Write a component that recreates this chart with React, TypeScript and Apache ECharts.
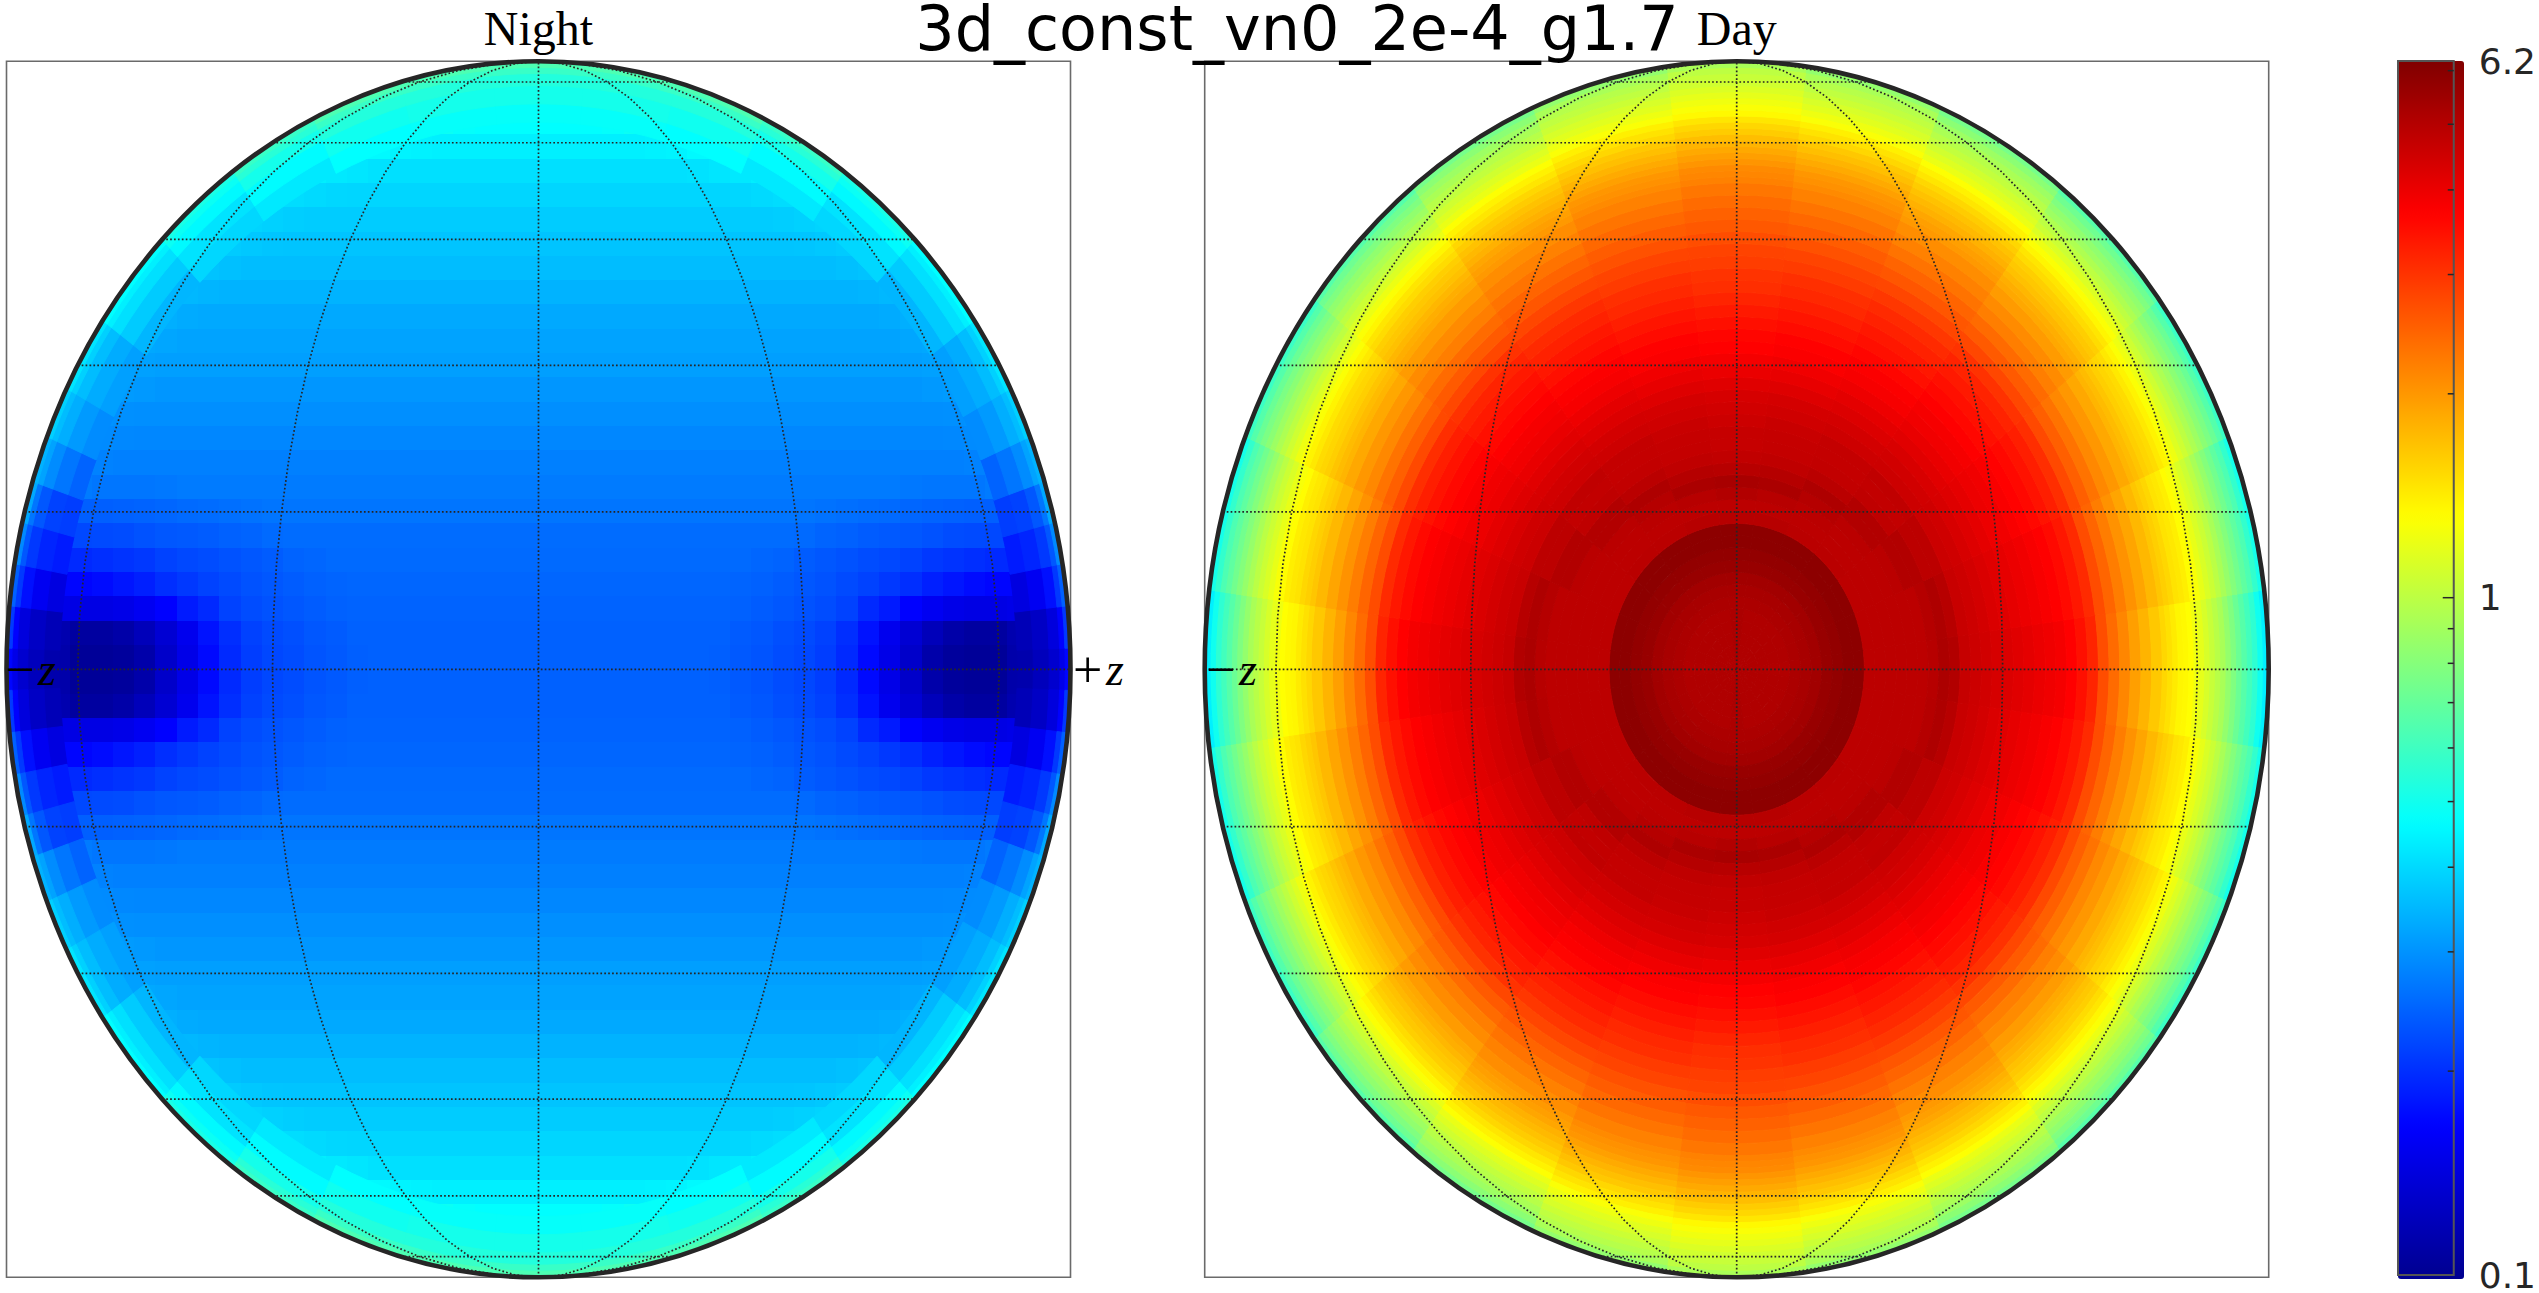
import React, { useEffect, useRef } from "react";
import * as echarts from "echarts";

const chartTitle = "3d_const_vn0_2e-4_g1.7";
const panelNames = ["Night", "Day"];
const colorbarLabels = [0.1, 1, 6.2];
const colorbarMinorTicks = [0.2, 0.3, 0.4, 0.5, 0.6, 0.7, 0.8, 0.9, 2, 3, 4, 5, 6];
const colorbarMajorTicks = [1];
const jetColors = ["#00008f", "#0000ff", "#0080ff", "#00ffff", "#80ff80", "#ffff00", "#ff8000", "#ff0000", "#800000"];

const latitudes = [-75, -60, -45, -30, -15, 0, 15, 30, 45, 60, 75];
const longitudes = [-60, -30, 0, 30, 60];
const meridianSamples = [-90, -85, -80, -75, -70, -65, -60, -55, -50, -45, -40, -35, -30, -25, -20, -15, -10, -5, 0, 5, 10, 15, 20, 25, 30, 35, 40, 45, 50, 55, 60, 65, 70, 75, 80, 85, 90];

// Day side: elliptical radius ring edges, sector edges over one quadrant, one radial list per sector.
const dayRings = [0, 0.02, 0.04, 0.06, 0.08, 0.1, 0.12, 0.14, 0.16, 0.18, 0.2, 0.22, 0.24, 0.26, 0.28, 0.3, 0.32, 0.34, 0.36, 0.38, 0.4, 0.42, 0.44, 0.46, 0.48, 0.5, 0.52, 0.54, 0.56, 0.58, 0.6, 0.62, 0.64, 0.66, 0.68, 0.7, 0.72, 0.74, 0.76, 0.78, 0.8, 0.81, 0.82, 0.83, 0.84, 0.85, 0.86, 0.87, 0.88, 0.89, 0.9, 0.91, 0.92, 0.93, 0.94, 0.95, 0.96, 0.97, 0.98, 0.99, 1];
const daySectors = [0, 7.5, 22.5, 37.5, 52.5, 67.5, 82.5, 90];
const day0 = [5.07, 5.07, 5.07, 5.07, 5.07, 5.18, 5.28, 5.39, 5.63, 5.74, 5.87, 5.87, 4.86, 4.86, 4.86, 4.86, 4.86, 4.86, 4.96, 5.18, 5.07, 4.66, 4.56, 4.47, 4.38, 4.29, 4.2, 4.11, 4.02, 3.94, 3.86, 3.7, 3.48, 3.2, 2.71, 2.4, 2.16, 1.95, 1.79, 1.65, 1.55, 1.49, 1.43, 1.37, 1.35, 1.32, 1.24, 1.19, 1.12, 1.05, 0.99, 0.93, 0.855, 0.787, 0.722, 0.666, 0.614, 0.565, 0.5, 0.442];
const day15 = [5.1, 5.1, 5.1, 5.1, 5.1, 5.18, 5.28, 5.39, 5.63, 5.74, 5.87, 5.87, 4.86, 4.86, 4.86, 4.86, 4.86, 4.86, 5.0, 5.15, 4.96, 4.62, 4.53, 4.42, 4.31, 4.2, 4.09, 4.0, 3.91, 3.81, 3.72, 3.57, 3.38, 3.13, 2.73, 2.46, 2.24, 2.05, 1.9, 1.76, 1.66, 1.6, 1.55, 1.48, 1.45, 1.41, 1.33, 1.28, 1.2, 1.13, 1.07, 1.0, 0.93, 0.86, 0.8, 0.745, 0.69, 0.64, 0.575, 0.512];
const day30 = [5.1, 5.1, 5.1, 5.1, 5.1, 5.18, 5.28, 5.39, 5.63, 5.74, 5.87, 5.87, 4.86, 4.86, 4.86, 4.86, 4.9, 5.07, 5.07, 4.86, 4.86, 4.58, 4.49, 4.36, 4.24, 4.11, 3.99, 3.91, 3.8, 3.69, 3.58, 3.44, 3.28, 3.07, 2.76, 2.52, 2.33, 2.14, 2.01, 1.88, 1.78, 1.73, 1.67, 1.6, 1.56, 1.52, 1.44, 1.38, 1.3, 1.23, 1.15, 1.08, 1.01, 0.945, 0.885, 0.825, 0.775, 0.722, 0.66, 0.595];
const day45 = [5.1, 5.1, 5.1, 5.1, 5.1, 5.18, 5.28, 5.39, 5.63, 5.74, 5.87, 5.87, 4.9, 4.86, 4.86, 4.9, 5.07, 5.07, 4.8, 4.75, 4.78, 4.55, 4.47, 4.33, 4.18, 4.04, 3.91, 3.84, 3.72, 3.6, 3.48, 3.34, 3.21, 3.02, 2.78, 2.57, 2.4, 2.23, 2.11, 1.98, 1.88, 1.83, 1.77, 1.7, 1.65, 1.6, 1.52, 1.46, 1.37, 1.3, 1.22, 1.14, 1.07, 1.01, 0.95, 0.89, 0.845, 0.787, 0.735, 0.663];
const day60 = [5.1, 5.1, 5.1, 5.1, 5.1, 5.18, 5.28, 5.39, 5.63, 5.74, 5.87, 5.87, 4.9, 4.86, 4.9, 5.0, 5.15, 4.9, 4.75, 4.7, 4.7, 4.53, 4.43, 4.27, 4.13, 3.97, 3.83, 3.75, 3.63, 3.49, 3.38, 3.24, 3.13, 2.97, 2.79, 2.62, 2.47, 2.33, 2.2, 2.1, 2.0, 1.95, 1.89, 1.81, 1.75, 1.69, 1.62, 1.55, 1.46, 1.39, 1.31, 1.21, 1.15, 1.09, 1.03, 0.985, 0.935, 0.885, 0.825, 0.755];
const day75 = [5.1, 5.1, 5.1, 5.1, 5.1, 5.18, 5.28, 5.39, 5.63, 5.74, 5.87, 5.87, 4.96, 4.86, 4.95, 5.2, 5.0, 4.8, 4.7, 4.68, 4.62, 4.49, 4.4, 4.24, 4.06, 3.91, 3.76, 3.69, 3.54, 3.41, 3.28, 3.15, 3.06, 2.92, 2.81, 2.67, 2.55, 2.43, 2.32, 2.2, 2.12, 2.06, 2.02, 1.94, 1.86, 1.79, 1.71, 1.65, 1.55, 1.48, 1.4, 1.29, 1.23, 1.17, 1.12, 1.07, 1.02, 0.98, 0.93, 0.85];
const day90 = [5.18, 5.18, 5.18, 5.18, 5.18, 5.18, 5.28, 5.39, 5.63, 5.74, 5.87, 5.87, 4.96, 4.86, 5.07, 5.28, 4.96, 4.76, 4.66, 4.66, 4.56, 4.47, 4.38, 4.2, 4.02, 3.86, 3.7, 3.63, 3.48, 3.34, 3.2, 3.07, 3.01, 2.89, 2.83, 2.71, 2.6, 2.5, 2.4, 2.3, 2.2, 2.16, 2.12, 2.03, 1.95, 1.87, 1.79, 1.72, 1.62, 1.55, 1.46, 1.35, 1.29, 1.24, 1.19, 1.14, 1.09, 1.05, 1.01, 0.93];
const dayProfiles = [day0, day15, day30, day45, day60, day75, day90];

// Night side: one quadrant of a regular cell grid; rows go up from the equator, columns out from the central meridian.
const nightCellSize = 0.04;
const nightRows = [
  [0.248, 0.248, 0.248, 0.248, 0.248, 0.248, 0.248, 0.248, 0.246, 0.24, 0.235, 0.228, 0.223, 0.214, 0.198, 0.174, 0.151, 0.131, 0.113, 0.106, 0.104, 0.104, 0.113, 0.126, 0.145],
  [0.248, 0.248, 0.248, 0.248, 0.248, 0.248, 0.248, 0.248, 0.248, 0.242, 0.238, 0.23, 0.226, 0.218, 0.202, 0.18, 0.155, 0.137, 0.122, 0.112, 0.108, 0.108, 0.116, 0.128, 0.15],
  [0.25, 0.25, 0.25, 0.25, 0.25, 0.25, 0.25, 0.25, 0.25, 0.248, 0.243, 0.238, 0.233, 0.228, 0.219, 0.198, 0.186, 0.168, 0.158, 0.151, 0.148, 0.148, 0.151, 0.161, 0.186],
  [0.253, 0.253, 0.253, 0.253, 0.253, 0.253, 0.253, 0.253, 0.253, 0.251, 0.248, 0.243, 0.238, 0.233, 0.226, 0.219, 0.21, 0.202, 0.19, 0.182, 0.175, 0.171, 0.171, 0.175, 0.21],
  [0.257, 0.257, 0.257, 0.257, 0.257, 0.257, 0.257, 0.257, 0.257, 0.257, 0.253, 0.25, 0.243, 0.238, 0.233, 0.228, 0.224, 0.219, 0.21, 0.206, 0.202, 0.198, 0.198, 0.202, 0.22],
  [0.259, 0.259, 0.259, 0.259, 0.259, 0.259, 0.259, 0.259, 0.259, 0.259, 0.259, 0.259, 0.257, 0.251, 0.248, 0.243, 0.24, 0.238, 0.233, 0.228, 0.226, 0.224, 0.224, 0.23, 0.24],
  [0.268, 0.268, 0.268, 0.268, 0.268, 0.268, 0.268, 0.268, 0.268, 0.268, 0.268, 0.268, 0.268, 0.265, 0.262, 0.259, 0.257, 0.253, 0.25, 0.248, 0.246, 0.246, 0.248, 0.255, 0.265],
  [0.275, 0.275, 0.275, 0.275, 0.275, 0.275, 0.275, 0.275, 0.275, 0.275, 0.275, 0.275, 0.275, 0.275, 0.275, 0.275, 0.275, 0.272, 0.27, 0.27, 0.27, 0.275, 0.281, 0.281, 0.281],
  [0.281, 0.281, 0.281, 0.281, 0.281, 0.281, 0.281, 0.281, 0.281, 0.281, 0.281, 0.281, 0.281, 0.281, 0.281, 0.281, 0.281, 0.281, 0.281, 0.281, 0.283, 0.285, 0.287, 0.29, 0.29],
  [0.289, 0.289, 0.289, 0.289, 0.289, 0.289, 0.289, 0.289, 0.289, 0.289, 0.289, 0.289, 0.289, 0.289, 0.289, 0.289, 0.289, 0.289, 0.289, 0.29, 0.293, 0.297, 0.3, 0.3],
  [0.298, 0.298, 0.298, 0.298, 0.298, 0.298, 0.298, 0.298, 0.298, 0.298, 0.298, 0.298, 0.298, 0.298, 0.298, 0.298, 0.298, 0.298, 0.298, 0.299, 0.302, 0.305, 0.31, 0.31],
  [0.307, 0.307, 0.307, 0.307, 0.307, 0.307, 0.307, 0.307, 0.307, 0.307, 0.307, 0.307, 0.307, 0.307, 0.307, 0.307, 0.307, 0.307, 0.31, 0.313, 0.316, 0.32, 0.32],
  [0.318, 0.318, 0.318, 0.318, 0.318, 0.318, 0.318, 0.318, 0.318, 0.318, 0.318, 0.318, 0.318, 0.318, 0.318, 0.318, 0.318, 0.318, 0.321, 0.325, 0.33, 0.33, 0.33],
  [0.324, 0.324, 0.324, 0.324, 0.324, 0.324, 0.324, 0.324, 0.324, 0.324, 0.324, 0.324, 0.324, 0.324, 0.324, 0.324, 0.324, 0.327, 0.33, 0.335, 0.34, 0.34],
  [0.331, 0.331, 0.331, 0.331, 0.331, 0.331, 0.331, 0.331, 0.331, 0.331, 0.331, 0.331, 0.331, 0.331, 0.331, 0.331, 0.334, 0.34, 0.345, 0.35, 0.35],
  [0.345, 0.345, 0.345, 0.345, 0.345, 0.345, 0.345, 0.345, 0.345, 0.345, 0.345, 0.345, 0.345, 0.345, 0.345, 0.348, 0.352, 0.358, 0.362, 0.365],
  [0.359, 0.359, 0.359, 0.359, 0.359, 0.359, 0.359, 0.359, 0.359, 0.359, 0.359, 0.359, 0.359, 0.36, 0.364, 0.368, 0.372, 0.376, 0.38, 0.38],
  [0.37, 0.37, 0.37, 0.37, 0.37, 0.37, 0.37, 0.37, 0.37, 0.37, 0.37, 0.37, 0.372, 0.376, 0.38, 0.384, 0.39, 0.39, 0.39],
  [0.382, 0.382, 0.382, 0.382, 0.382, 0.382, 0.382, 0.382, 0.382, 0.382, 0.382, 0.385, 0.39, 0.394, 0.398, 0.402, 0.405, 0.41],
  [0.398, 0.398, 0.398, 0.398, 0.398, 0.398, 0.398, 0.398, 0.398, 0.4, 0.405, 0.41, 0.415, 0.42, 0.425, 0.43, 0.43],
  [0.415, 0.415, 0.415, 0.415, 0.415, 0.415, 0.415, 0.418, 0.425, 0.43, 0.44, 0.445, 0.45, 0.46, 0.46],
  [0.442, 0.442, 0.442, 0.442, 0.442, 0.446, 0.45, 0.46, 0.47, 0.48, 0.49, 0.5, 0.5, 0.5],
  [0.47, 0.47, 0.47, 0.476, 0.49, 0.5, 0.52, 0.53, 0.54, 0.55, 0.55, 0.55],
  [0.5, 0.5, 0.51, 0.52, 0.53, 0.54, 0.55, 0.55, 0.55, 0.55],
  [0.55, 0.56, 0.57, 0.58, 0.59, 0.59, 0.59],
];

// Night side limb: thin rings along the ellipse, one list per sector of a quadrant.
const nightLimbRings = [0.9, 0.93, 0.96, 0.98, 0.99, 1];
const nightLimbSectors = [0, 2, 6, 10, 14, 18, 22.5, 27.5, 35, 45, 55, 65, 75, 85, 90];
const limb0 = [0.115, 0.123, 0.134, 0.151, 0.171];
const limb4 = [0.12, 0.128, 0.143, 0.168, 0.21];
const limb8 = [0.145, 0.158, 0.178, 0.21, 0.248];
const limb12 = [0.186, 0.194, 0.21, 0.238, 0.292];
const limb16 = [0.214, 0.219, 0.238, 0.27, 0.331];
const limb20 = [0.25, 0.27, 0.295, 0.324, 0.345];
const limb25 = [0.295, 0.312, 0.338, 0.359, 0.39];
const limb30 = [0.32, 0.335, 0.359, 0.39, 0.424];
const limb40 = [0.35, 0.38, 0.415, 0.442, 0.47];
const limb50 = [0.4, 0.42, 0.46, 0.49, 0.52];
const limb60 = [0.43, 0.465, 0.51, 0.553, 0.59];
const limb70 = [0.47, 0.5, 0.54, 0.59, 0.64];
const limb80 = [0.48, 0.51, 0.54, 0.59, 0.64];
const limb90 = [0.48, 0.51, 0.54, 0.59, 0.64];
const nightLimbProfiles = [limb0, limb4, limb8, limb12, limb16, limb20, limb25, limb30, limb40, limb50, limb60, limb70, limb80, limb90];

const INK = "#262626";
const SERIF = "'Liberation Serif', serif";
const SANS = "'DejaVu Sans', sans-serif";
const PANEL_TOP = 61.3;
const PANEL_H = 1216;
const PANEL_W = 1064;
const PANEL_LEFTS = [6.5, 1204.7];
const BAR = { left: 2398, top: 61, width: 66, height: 1218 };
const LOG_MIN = Math.log10(colorbarLabels[0]);
const LOG_MAX = Math.log10(colorbarLabels[2]);
const rad = (d: number) => (d * Math.PI) / 180;

// Polar mesh cells mirrored into the four quadrants.
function polarCells(rings: number[], sectors: number[], profiles: number[][]) {
  const cells: number[][] = [];
  profiles.forEach((profile, s) => {
    const lo = sectors[s];
    const hi = sectors[s + 1];
    profile.forEach((v, r) => {
      const log = Math.log10(v);
      cells.push([lo, hi, rings[r], rings[r + 1], log]);
      cells.push([180 - hi, 180 - lo, rings[r], rings[r + 1], log]);
      cells.push([-hi, -lo, rings[r], rings[r + 1], log]);
      cells.push([180 + lo, 180 + hi, rings[r], rings[r + 1], log]);
    });
  });
  return cells;
}

// Regular grid cells mirrored into the four quadrants.
function gridCells(rows: number[][], size: number) {
  const cells: number[][] = [];
  rows.forEach((row, j) => {
    row.forEach((v, i) => {
      const log = Math.log10(v);
      const x0 = i * size;
      const x1 = x0 + size;
      const y0 = j * size;
      const y1 = y0 + size;
      cells.push([x0, x1, y0, y1, log]);
      cells.push([-x1, -x0, y0, y1, log]);
      cells.push([x0, x1, -y1, -y0, log]);
      cells.push([-x1, -x0, -y1, -y0, log]);
    });
  });
  return cells;
}

function renderPolarCell(_p: any, api: any) {
  const t0 = api.value(0);
  const t1 = api.value(1);
  const r0 = api.value(2);
  const r1 = api.value(3);
  const steps = 5;
  const points: number[][] = [];
  for (let k = 0; k <= steps; k++) {
    const a = rad(t0 + ((t1 - t0) * k) / steps);
    points.push(api.coord([r1 * Math.cos(a), r1 * Math.sin(a)]));
  }
  for (let k = steps; k >= 0; k--) {
    const a = rad(t0 + ((t1 - t0) * k) / steps);
    points.push(api.coord([r0 * Math.cos(a), r0 * Math.sin(a)]));
  }
  const color = api.visual("color");
  return { type: "polygon", shape: { points }, style: { fill: color, stroke: color, lineWidth: 1 } };
}

function renderGridCell(_p: any, api: any) {
  const [xa, ya] = api.coord([api.value(0), api.value(3)]);
  const [xb, yb] = api.coord([api.value(1), api.value(2)]);
  const x = Math.round(xa);
  const y = Math.round(ya);
  return {
    type: "rect",
    shape: { x, y, width: Math.round(xb) - x, height: Math.round(yb) - y },
    style: { fill: api.visual("color") },
  };
}

function renderFrame(_p: any, api: any) {
  const [l, t] = api.coord([-1, 1]);
  const [r, b] = api.coord([1, -1]);
  const cy = (t + b) / 2;
  const a = (r - l) / 2;
  const h = (b - t) / 2;
  const ell = `M${l} ${cy}A${a} ${h} 0 1 0 ${r} ${cy}A${a} ${h} 0 1 0 ${l} ${cy}Z`;
  const mask = `M${l - 3} ${t - 3}L${r + 3} ${t - 3}L${r + 3} ${b + 3}L${l - 3} ${b + 3}Z${ell}`;
  return {
    type: "group",
    children: [
      { type: "path", shape: { pathData: mask }, style: { fill: "#ffffff" } },
      { type: "rect", shape: { x: l, y: t, width: r - l, height: b - t }, style: { fill: "none", stroke: "#6a6a6a", lineWidth: 1.6 } },
      { type: "path", shape: { pathData: ell }, style: { fill: "none", stroke: INK, lineWidth: 4.6 } },
    ],
  };
}

function renderTick(_p: any, api: any) {
  const [x, y] = api.coord([1, api.value(0)]);
  return { type: "line", shape: { x1: x, y1: y, x2: x - api.value(1), y2: y }, style: { stroke: INK, lineWidth: 1.5 } };
}

function graticule(gridIndex: number) {
  const lineStyle = { color: INK, width: 1.7, type: [1.7, 2.2] as number[] };
  const base = { type: "line", xAxisIndex: gridIndex, yAxisIndex: gridIndex, symbol: "none", silent: true, z: 3, lineStyle };
  const rows = latitudes.map((lat) => {
    const c = Math.cos(rad(lat));
    const s = Math.sin(rad(lat));
    return { ...base, data: [[-c, s], [c, s]] };
  });
  const cols = longitudes.map((lon) => ({
    ...base,
    data: meridianSamples.map((lat) => [Math.sin(rad(lon)) * Math.cos(rad(lat)), Math.sin(rad(lat))]),
  }));
  return [...rows, ...cols];
}

function zLabel(sign: string, x: number) {
  return {
    type: "text",
    x,
    y: 669,
    z: 100,
    silent: true,
    style: {
      text: `{a|${sign}}{b|z}`,
      textVerticalAlign: "middle",
      rich: {
        a: { fontFamily: SERIF, fontSize: 52, fill: "#000000", width: 33 },
        b: { fontFamily: SERIF, fontStyle: "italic", fontSize: 46, fill: "#000000" },
      },
    },
  };
}

export default function App() {
  const ref = useRef<HTMLDivElement>(null);
  useEffect(() => {
    document.body.style.margin = "0";
    const chart = echarts.init(ref.current!, undefined, { renderer: "svg" });
    const axisBase = { show: false, type: "value", min: -1, max: 1 };
    const heat = (gridIndex: number, data: number[][], renderItem: any) => ({
      type: "custom",
      xAxisIndex: gridIndex,
      yAxisIndex: gridIndex,
      coordinateSystem: "cartesian2d",
      renderItem,
      data,
      z: 1,
      silent: true,
      progressive: 0,
    });
    const frame = (gridIndex: number) => ({
      type: "custom",
      xAxisIndex: gridIndex,
      yAxisIndex: gridIndex,
      coordinateSystem: "cartesian2d",
      renderItem: renderFrame,
      data: [[0, 0]],
      z: 4,
      silent: true,
    });
    const tickSeries = (values: number[], len: number) => ({
      type: "custom",
      xAxisIndex: 2,
      yAxisIndex: 2,
      coordinateSystem: "cartesian2d",
      renderItem: renderTick,
      data: values.map((v) => [Math.log10(v), len]),
      z: 10,
      silent: true,
    });
    chart.setOption({
      animation: false,
      backgroundColor: "#ffffff",
      title: [
        { text: chartTitle, left: 1297, top: 0, padding: 0, textAlign: "center", z: 20, textStyle: { fontFamily: SANS, fontSize: 62, lineHeight: 56, fontWeight: "normal", color: "#000000" } },
        { text: panelNames[0], left: 538.5, top: 4, padding: 0, textAlign: "center", textStyle: { fontFamily: SERIF, fontSize: 48, lineHeight: 48, fontWeight: "normal", color: "#000000" } },
        { text: panelNames[1], left: 1736.7, top: 4, padding: 0, textAlign: "center", textStyle: { fontFamily: SERIF, fontSize: 48, lineHeight: 48, fontWeight: "normal", color: "#000000" } },
      ],
      grid: [
        { left: PANEL_LEFTS[0], top: PANEL_TOP, width: PANEL_W, height: PANEL_H, containLabel: false },
        { left: PANEL_LEFTS[1], top: PANEL_TOP, width: PANEL_W, height: PANEL_H, containLabel: false },
        { ...BAR, show: true, z: 10, backgroundColor: "transparent", borderColor: "#555555", borderWidth: 2 },
      ],
      xAxis: [
        { ...axisBase, gridIndex: 0 },
        { ...axisBase, gridIndex: 1 },
        { show: false, type: "value", min: 0, max: 1, gridIndex: 2 },
      ],
      yAxis: [
        { ...axisBase, gridIndex: 0 },
        { ...axisBase, gridIndex: 1 },
        {
          type: "value",
          gridIndex: 2,
          min: LOG_MIN,
          max: LOG_MAX,
          position: "right",
          z: 10,
          axisLine: { show: false },
          axisTick: { show: false },
          splitLine: { show: false },
          axisLabel: {
            show: true,
            customValues: colorbarLabels.map((v) => Math.log10(v)),
            margin: 25,
            fontFamily: SANS,
            fontSize: 36,
            lineHeight: 28,
            color: INK,
            formatter: (val: number) => String(colorbarLabels.find((l) => Math.abs(Math.log10(l) - val) < 1e-6) ?? ""),
          },
        },
      ],
      visualMap: {
        type: "continuous",
        seriesIndex: [0, 1, 2],
        dimension: 4,
        min: LOG_MIN,
        max: LOG_MAX,
        calculable: false,
        hoverLink: false,
        realtime: false,
        left: BAR.left,
        top: BAR.top,
        itemWidth: BAR.width,
        itemHeight: BAR.height,
        padding: 0,
        text: ["", ""],
        showLabel: false,
        inRange: { color: jetColors },
      },
      series: [
        heat(0, gridCells(nightRows, nightCellSize), renderGridCell),
        heat(0, polarCells(nightLimbRings, nightLimbSectors, nightLimbProfiles), renderPolarCell),
        heat(1, polarCells(dayRings, daySectors, dayProfiles), renderPolarCell),
        frame(0),
        frame(1),
        ...graticule(0),
        ...graticule(1),
        tickSeries(colorbarMinorTicks, 6),
        tickSeries(colorbarMajorTicks, 11),
      ],
      graphic: [zLabel("+", 1073), zLabel("\u2212", 5), zLabel("\u2212", 1206)],
    });
    return () => chart.dispose();
  }, []);
  return <div ref={ref} style={{ position: "fixed", left: 0, top: 0, width: 2539, height: 1293 }} />;
}
